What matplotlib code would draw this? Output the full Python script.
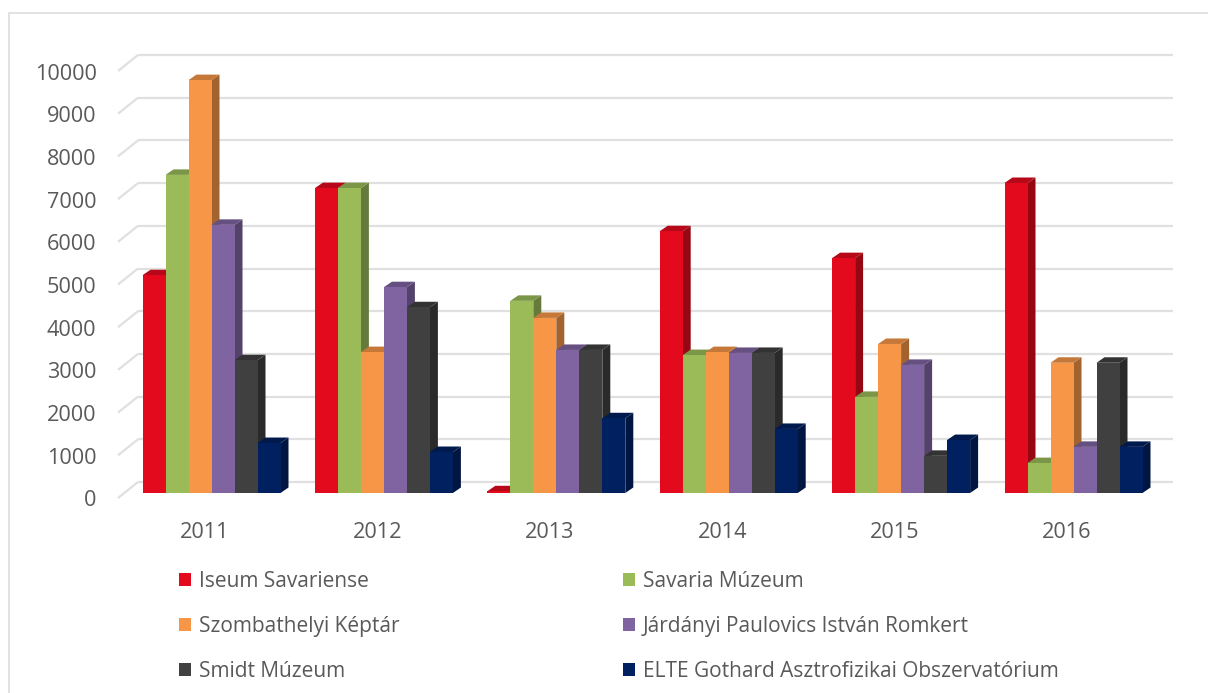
import matplotlib
matplotlib.use("Agg")
import matplotlib.pyplot as plt
import numpy as np
from matplotlib.patches import Polygon, Rectangle
from matplotlib.transforms import ScaledTranslation
from matplotlib.colors import to_rgb

years = ["2011", "2012", "2013", "2014", "2015", "2016"]
iseum = [5100, 7140, 40, 6130, 5500, 7260]
savaria = [7450, 7140, 4500, 3230, 2250, 700]
kepar = [9670, 3300, 4100, 3300, 3490, 3050]
romkert = [6280, 4820, 3350, 3280, 3000, 1080]
smidt = [3110, 4350, 3350, 3280, 870, 3050]
elte = [1170, 960, 1750, 1500, 1240, 1080]

names = ["Iseum Savariense", "Savaria Múzeum", "Szombathelyi Képtár",
         "Járdányi Paulovics István Romkert", "Smidt Múzeum",
         "ELTE Gothard Asztrofizikai Obszervatórium"]
series = [iseum, savaria, kepar, romkert, smidt, elte]
colors = ["#E30A1E", "#9BBB59", "#F79646", "#8064A2", "#404040", "#002060"]
yticks = list(range(0, 10001, 1000))

W, H = 1208, 693
plt.rcParams["font.family"] = ["Open Sans", "DejaVu Sans"]
TXT = "#595959"
FS = 15.6
FS_LEG = 15.0

fig = plt.figure(figsize=(W / 100, H / 100), dpi=100, facecolor="white")
L, R, T, B = 118, 1173, 66, 493
ax = fig.add_axes([L / W, 1 - B / H, (R - L) / W, (B - T) / H])
GROUP = 172.4
X0 = 205
ax.set_xlim((L - X0) / GROUP, (R - X0) / GROUP)
ax.set_ylim(0, 10000)
for s in ax.spines.values():
    s.set_visible(False)
ax.patch.set_visible(False)

px = 1 / GROUP            # one pixel in x data units
py = 10000 / (B - T)      # one pixel in y data units

# frame of the picture
fig.add_artist(Rectangle((9 / W, -0.01), 1.1, 1 - 13 / H + 0.01, transform=fig.transFigure,
                         fill=False, edgecolor="#dddddd", linewidth=1.2))

# back-wall gridlines with their floor diagonals
GRID = "#e0e0e0"
xa = ax.get_xlim()[0]
xb = ax.get_xlim()[1]
for v in yticks:
    yb = v + 11 * py
    ax.plot([xa + 20 * px, xb], [yb, yb], color=GRID, lw=1.6, clip_on=False, zorder=1,
            solid_capstyle="butt")
    ax.plot([xa, xa + 20 * px], [yb - 16 * py, yb], color=GRID, lw=1.6, clip_on=False,
            zorder=1, solid_capstyle="butt")

# 3-D looking bars
bw = 23 * px
dx, dy = 8 * px, 5.5 * py
shift = 6.5 * px


def shade(c, f):
    return tuple(np.array(to_rgb(c)) * f)


z = 2
for j, (vals, c) in enumerate(zip(series, colors)):
    lefts = np.arange(len(years)) + shift + (j - 3) * bw
    for xl, v in zip(lefts, vals):
        xr = xl + bw
        ax.add_patch(Polygon([(xr, 0), (xr + dx, dy), (xr + dx, v + dy), (xr, v)],
                             facecolor=shade(c, 0.66), edgecolor="none", clip_on=False, zorder=z))
        ax.add_patch(Polygon([(xl, v), (xr, v), (xr + dx, v + dy), (xl + dx, v + dy)],
                             facecolor=shade(c, 0.8), edgecolor="none", clip_on=False, zorder=z))
    ax.bar(lefts, vals, width=bw, align="edge", color=c, zorder=z + 0.5, clip_on=False,
           label=names[j])
    z += 1

# axes text
ax.set_xticks(range(len(years)))
ax.set_xticklabels(years)
ax.set_yticks(yticks)
ax.set_yticklabels([str(v) for v in yticks])
ax.tick_params(axis="x", length=0, pad=20.7, labelsize=FS, labelcolor=TXT)
ax.tick_params(axis="y", length=0, pad=15.5, labelsize=FS, labelcolor=TXT)
down = ScaledTranslation(0, -5.5 / 100, fig.dpi_scale_trans)
for t in ax.yaxis.get_major_ticks():
    t.label1.set_transform(t.label1.get_transform() + down)

# legend: columns fill first, so hand over the entries column by column
handles, labels = ax.get_legend_handles_labels()
order = [0, 2, 4, 1, 3, 5]
leg = ax.legend([handles[i] for i in order], [labels[i] for i in order], ncol=2,
                loc="upper left", bbox_to_anchor=(179 / W, 1 - 571 / H),
                bbox_transform=fig.transFigure, frameon=False, fontsize=FS_LEG,
                labelcolor=TXT, borderaxespad=0, borderpad=0,
                handlelength=0.58, handleheight=0.58, handletextpad=0.38,
                columnspacing=10.72, labelspacing=1.15)

fig.savefig("out.png", dpi=100, facecolor="white")
